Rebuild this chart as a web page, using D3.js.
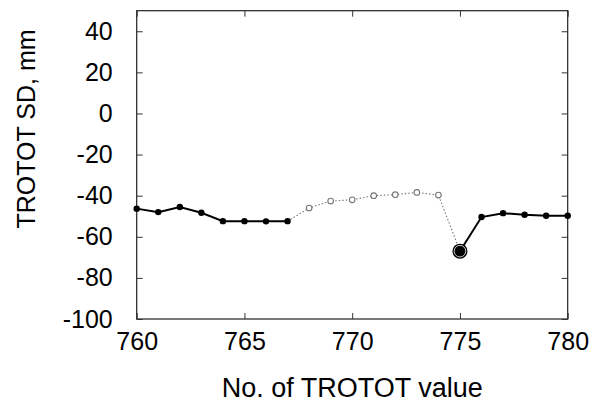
<!DOCTYPE html>
<html>
<head>
<meta charset="utf-8">
<script src="https://cdn.jsdelivr.net/npm/d3@7"></script>
<style>
  body { margin: 0; background: #fff; }
  svg text { font-family: "Liberation Sans", Arial, Helvetica, sans-serif; fill: #000; }
</style>
</head>
<body>
<svg id="chart"></svg>
<script>
// value numbers along x
const valueNo = [760, 761, 762, 763, 764, 765, 766, 767, 768, 769, 770,
                 771, 772, 773, 774, 775, 776, 777, 778, 779, 780]
// TROTOT SD, mm
const sdValues = [-46.3, -48.0, -45.5, -48.3, -52.4, -52.4, -52.5, -52.4, -46.0, -42.6, -42.0,
                  -40.0, -39.5, -38.4, -39.7, -67.0, -50.4, -48.5, -49.3, -49.8, -49.8]
// 'ok' = accepted, 'rej' = rejected, 'out' = the detected outlier
const status = ['ok', 'ok', 'ok', 'ok', 'ok', 'ok', 'ok', 'ok', 'rej', 'rej', 'rej',
                'rej', 'rej', 'rej', 'rej', 'out', 'ok', 'ok', 'ok', 'ok', 'ok']
const xTicks = [760, 765, 770, 775, 780]
const yTicks = [-100, -80, -60, -40, -20, 0, 20, 40]

const width = 595, height = 405
const margin = { top: 10.7, right: 27.3, bottom: 86, left: 136.7 }

const data = valueNo.map((n, i) => ({ n: n, v: sdValues[i], s: status[i] }))

const svg = d3.select('#chart')
  .attr('width', width)
  .attr('height', height)

const x = d3.scaleLinear()
  .domain([760, 780])
  .range([margin.left, width - margin.right])

const y = d3.scaleLinear()
  .domain([-100, 50])
  .range([height - margin.bottom, margin.top])

// plain hyphen minus like the original
const fmt = d => String(d)

// frame with inward ticks on all sides
svg.append('rect')
  .attr('x', x(760)).attr('y', y(50))
  .attr('width', x(780) - x(760)).attr('height', y(-100) - y(50))
  .attr('fill', 'none').attr('stroke', '#222').attr('stroke-width', 1.2)

svg.append('g')
  .attr('transform', 'translate(0,' + y(-100) + ')')
  .call(d3.axisBottom(x).tickValues(xTicks).tickFormat(fmt).tickSize(-6).tickPadding(13).tickSizeOuter(0))
  .call(g => g.select('.domain').remove())
  .call(g => g.selectAll('text').attr('font-size', 25))

svg.append('g')
  .attr('transform', 'translate(0,' + y(50) + ')')
  .call(d3.axisTop(x).tickValues(xTicks).tickSize(-6).tickFormat('').tickSizeOuter(0))
  .call(g => g.select('.domain').remove())

svg.append('g')
  .attr('transform', 'translate(' + x(760) + ',0)')
  .call(d3.axisLeft(y).tickValues(yTicks).tickFormat(fmt).tickSize(-6).tickPadding(24).tickSizeOuter(0))
  .call(g => g.select('.domain').remove())
  .call(g => g.selectAll('text').attr('font-size', 25))

svg.append('g')
  .attr('transform', 'translate(' + x(780) + ',0)')
  .call(d3.axisRight(y).tickValues(yTicks).tickSize(-6).tickFormat('').tickSizeOuter(0))
  .call(g => g.select('.domain').remove())

svg.selectAll('.tick line').attr('stroke', '#333')

// lines
const line = d3.line().x(d => x(d.n)).y(d => y(d.v))
const first = data.filter(d => d.n <= 767)
const middle = data.filter(d => d.n >= 767 && d.n <= 775)
const last = data.filter(d => d.n >= 775)

svg.append('path').datum(middle)
  .attr('d', line).attr('fill', 'none')
  .attr('stroke', '#777').attr('stroke-width', 1.1).attr('stroke-dasharray', '1.5,2')

svg.append('path').datum(first)
  .attr('d', line).attr('fill', 'none').attr('stroke', '#000').attr('stroke-width', 2)

svg.append('path').datum(last)
  .attr('d', line).attr('fill', 'none').attr('stroke', '#000').attr('stroke-width', 2)

// markers
svg.append('g').selectAll('circle')
  .data(data.filter(d => d.s === 'ok'))
  .join('circle')
  .attr('cx', d => x(d.n)).attr('cy', d => y(d.v)).attr('r', 3.2)
  .attr('fill', '#000')

svg.append('g').selectAll('circle')
  .data(data.filter(d => d.s === 'rej'))
  .join('circle')
  .attr('cx', d => x(d.n)).attr('cy', d => y(d.v)).attr('r', 2.8)
  .attr('fill', '#fff').attr('stroke', '#777').attr('stroke-width', 1.1)

const out = data.filter(d => d.s === 'out')
svg.append('g').selectAll('circle')
  .data(out)
  .join('circle')
  .attr('cx', d => x(d.n)).attr('cy', d => y(d.v)).attr('r', 7.5)
  .attr('fill', '#000')
svg.append('g').selectAll('circle')
  .data(out)
  .join('circle')
  .attr('cx', d => x(d.n)).attr('cy', d => y(d.v)).attr('r', 5.8)
  .attr('fill', '#000').attr('stroke', '#ddd').attr('stroke-width', 0.9)

// axis titles
svg.append('text')
  .attr('x', (x(760) + x(780)) / 2)
  .attr('y', 396.5)
  .attr('text-anchor', 'middle')
  .attr('font-size', 27)
  .text('No. of TROTOT value')

svg.append('text')
  .attr('transform', 'translate(35,129) rotate(-90)')
  .attr('text-anchor', 'middle')
  .attr('font-size', 25)
  .text('TROTOT SD, mm')
</script>
</body>
</html>
